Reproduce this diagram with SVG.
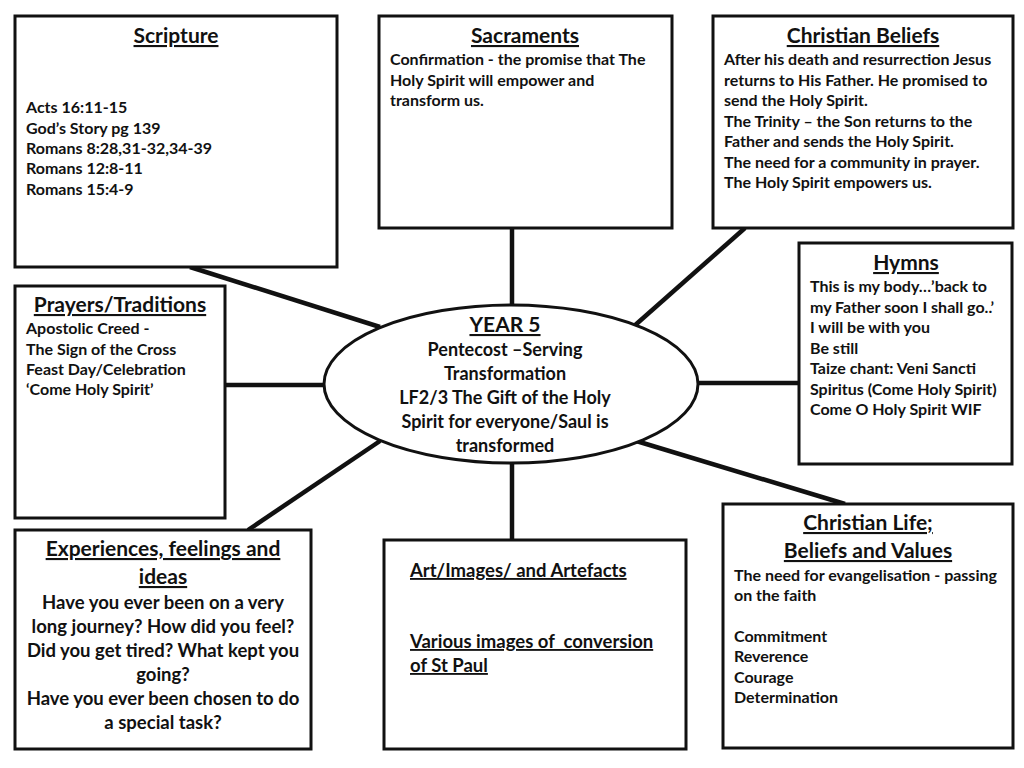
<svg xmlns="http://www.w3.org/2000/svg" width="1024" height="768" viewBox="0 0 1024 768">
<style>
.box{fill:#fff;stroke:#111;stroke-width:3}
.conn line{stroke:#111;stroke-width:4.5}
text{font-family:Lato,"Open Sans",sans-serif;font-weight:bold;fill:#111}
.t{font-size:21px;text-decoration:underline;text-anchor:middle}
.b{font-size:16px}
.c{text-anchor:middle}
.u{text-decoration:underline}
</style>
<rect width="1024" height="768" fill="#fff"/>
<g class="conn" id="connectors">
<line x1="190" y1="267" x2="380" y2="327"/>
<line x1="512" y1="228" x2="512" y2="306"/>
<line x1="745" y1="228" x2="633" y2="327"/>
<line x1="688" y1="383" x2="798" y2="383"/>
<line x1="225" y1="385" x2="324" y2="385"/>
<line x1="248" y1="530" x2="380" y2="441"/>
<line x1="512" y1="462" x2="512" y2="540"/>
<line x1="633" y1="440" x2="845" y2="504"/>
</g>
<g id="scripture">
<rect class="box" x="15" y="16" width="322" height="251"/>
<text class="t" x="176" y="43">Scripture</text>
<text class="b" x="26" y="113">Acts 16:11-15</text>
<text class="b" x="26" y="134">God’s Story pg 139</text>
<text class="b" x="26" y="154">Romans 8:28,31-32,34-39</text>
<text class="b" x="26" y="174">Romans 12:8-11</text>
<text class="b" x="26" y="195">Romans 15:4-9</text>
</g>
<g id="sacraments">
<rect class="box" x="379" y="16" width="293" height="212"/>
<text class="t" x="525" y="43">Sacraments</text>
<text class="b" x="390" y="65">Confirmation - the promise that The</text>
<text class="b" x="390" y="86">Holy Spirit will empower and</text>
<text class="b" x="390" y="106">transform us.</text>
</g>
<g id="christian-beliefs">
<rect class="box" x="713" y="16" width="300" height="212"/>
<text class="t" x="863" y="43">Christian Beliefs</text>
<text class="b" x="724" y="65">After his death and resurrection Jesus</text>
<text class="b" x="724" y="86">returns to His Father. He promised to</text>
<text class="b" x="724" y="106">send the Holy Spirit.</text>
<text class="b" x="724" y="127">The Trinity – the Son returns to the</text>
<text class="b" x="724" y="147">Father and sends the Holy Spirit.</text>
<text class="b" x="724" y="168">The need for a community in prayer.</text>
<text class="b" x="724" y="188">The Holy Spirit empowers us.</text>
</g>
<g id="hymns">
<rect class="box" x="799" y="243" width="213" height="221"/>
<text class="t" x="906" y="270">Hymns</text>
<text class="b" x="810" y="292">This is my body…’back to</text>
<text class="b" x="810" y="313">my Father soon I shall go..’</text>
<text class="b" x="810" y="333">I will be with you</text>
<text class="b" x="810" y="354">Be still</text>
<text class="b" x="810" y="374">Taize chant: Veni Sancti</text>
<text class="b" x="810" y="395">Spiritus (Come Holy Spirit)</text>
<text class="b" x="810" y="415">Come O Holy Spirit WIF</text>
</g>
<g id="prayers">
<rect class="box" x="15" y="286" width="210" height="232"/>
<text class="t" x="120" y="312">Prayers/Traditions</text>
<text class="b" x="26" y="334">Apostolic Creed -</text>
<text class="b" x="26" y="355">The Sign of the Cross</text>
<text class="b" x="26" y="375">Feast Day/Celebration</text>
<text class="b" x="26" y="395">‘Come Holy Spirit’</text>
</g>
<g id="center">
<ellipse cx="511" cy="384" rx="187" ry="79" fill="#fff" stroke="#111" stroke-width="3"/>
<text class="t" x="505" y="332">YEAR 5</text>
<text class="c" x="505" y="356" font-size="18">Pentecost –Serving</text>
<text class="c" x="505" y="380" font-size="18">Transformation</text>
<text class="c" x="505" y="404" font-size="18">LF2/3 The Gift of the Holy</text>
<text class="c" x="505" y="428" font-size="18">Spirit for everyone/Saul is</text>
<text class="c" x="505" y="452" font-size="18">transformed</text>
</g>
<g id="experiences">
<rect class="box" x="15" y="530" width="296" height="219"/>
<text class="t" x="163" y="556">Experiences, feelings and</text>
<text class="t" x="163" y="584">ideas</text>
<text class="c" x="163" y="609" font-size="18.5">Have you ever been on a very</text>
<text class="c" x="163" y="633" font-size="18.5">long journey? How did you feel?</text>
<text class="c" x="163" y="657" font-size="18.5">Did you get tired? What kept you</text>
<text class="c" x="163" y="681" font-size="18.5">going?</text>
<text class="c" x="163" y="705" font-size="18.5">Have you ever been chosen to do</text>
<text class="c" x="163" y="729" font-size="18.5">a special task?</text>
</g>
<g id="art">
<rect class="box" x="384" y="540" width="302" height="209"/>
<text class="u" x="410" y="577" font-size="18.5">Art/Images/ and Artefacts</text>
<text class="u" x="410" y="648" font-size="18.5" xml:space="preserve">Various images of  conversion</text>
<text class="u" x="410" y="672" font-size="18.5">of St Paul</text>
</g>
<g id="christian-life">
<rect class="box" x="723" y="504" width="290" height="244"/>
<text class="t" x="868" y="530">Christian Life;</text>
<text class="t" x="868" y="558">Beliefs and Values</text>
<text class="b" x="734" y="581">The need for evangelisation - passing</text>
<text class="b" x="734" y="601">on the faith</text>
<text class="b" x="734" y="642">Commitment</text>
<text class="b" x="734" y="662">Reverence</text>
<text class="b" x="734" y="683">Courage</text>
<text class="b" x="734" y="703">Determination</text>
</g>
</svg>
